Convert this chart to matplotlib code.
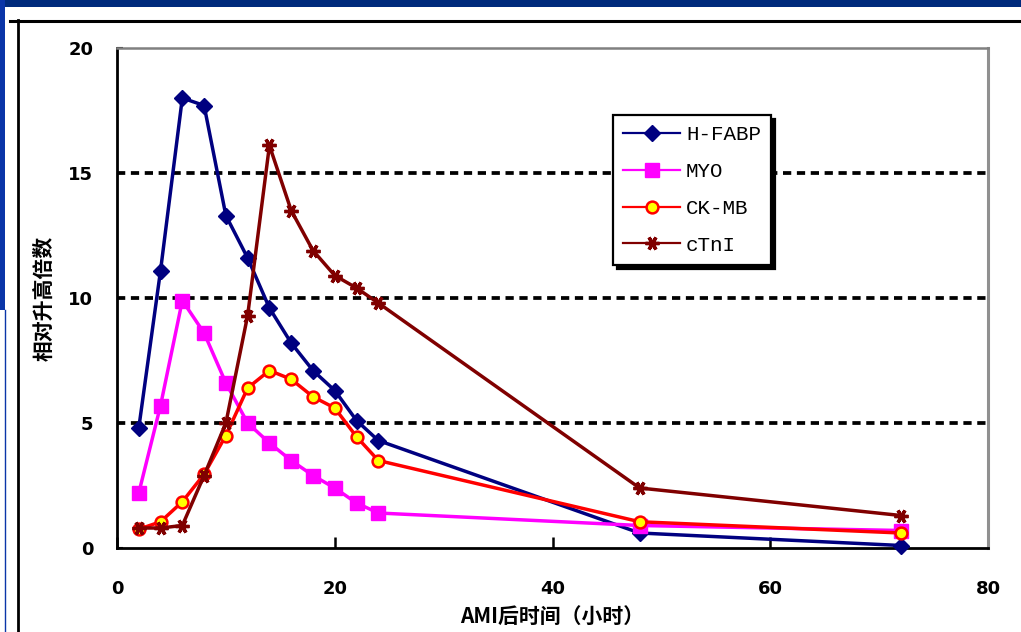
import matplotlib
matplotlib.use("Agg")
import matplotlib.pyplot as plt
from matplotlib.patches import Rectangle
from matplotlib.lines import Line2D

# Hours after AMI onset
hours = [2, 4, 6, 8, 10, 12, 14, 16, 18, 20, 22, 24, 48, 72]

# Fold change of each marker
h_fabp = [4.8, 11.1, 18.0, 17.7, 13.3, 11.6, 9.6, 8.2, 7.1, 6.3, 5.1, 4.3, 0.6, 0.1]
myo    = [2.2, 5.7, 9.9, 8.6, 6.6, 5.0, 4.2, 3.5, 2.9, 2.4, 1.8, 1.4, 0.9, 0.7]
ck_mb  = [0.75, 1.05, 1.85, 2.95, 4.5, 6.4, 7.1, 6.75, 6.05, 5.6, 4.45, 3.5, 1.05, 0.6]
ctni   = [0.8, 0.8, 0.9, 2.9, 5.0, 9.3, 16.1, 13.5, 11.9, 10.9, 10.4, 9.8, 2.4, 1.3]

series_names = ["H-FABP", "MYO", "CK-MB", "cTnI"]
x_ticks = [0, 20, 40, 60, 80]
y_ticks = [0, 5, 10, 15, 20]
x_label = "AMI后时间（小时）"
y_label = "相对升高倍数"

W, H = 1021, 632
fig = plt.figure(figsize=(W / 100, H / 100), dpi=100)
fig.patch.set_facecolor("white")


def fx(px):
    return px / W


def fy(py):
    return 1 - py / H


# Slide decorations: blue band at the top, blue strip on the left, black frame
fig.add_artist(Rectangle((0, fy(7)), 1, 7 / H, transform=fig.transFigure,
                         facecolor="#002a7c", edgecolor="none", zorder=0))
fig.add_artist(Rectangle((0, fy(310)), fx(5), 310 / H, transform=fig.transFigure,
                         facecolor="#0a35a8", edgecolor="none", zorder=0))
fig.add_artist(Line2D([fx(5), fx(5)], [fy(310), 0], transform=fig.transFigure,
                      color="#0a35a8", lw=1.0))
fig.add_artist(Line2D([fx(10), 1], [fy(20.5), fy(20.5)], transform=fig.transFigure,
                      color="black", lw=2.2))
fig.add_artist(Line2D([fx(17.5), fx(17.5)], [fy(20), 0], transform=fig.transFigure,
                      color="black", lw=2.0))

ax = fig.add_axes([fx(117), fy(548), fx(988) - fx(117), fy(48) - fy(548)])
ax.set_facecolor("white")

# Horizontal dotted reference lines
for yv in y_ticks[1:-1]:
    ax.axhline(yv, color="black", lw=2.7, linestyle=(0, (2.2, 1.5)), zorder=1)

common = dict(lw=2.5, clip_on=False, zorder=3)
l1, = ax.plot(hours, h_fabp, color="#000080", marker="D", markersize=8,
              markerfacecolor="#000080", markeredgecolor="#000080", **common)
l2, = ax.plot(hours, myo, color="#ff00ff", marker="s", markersize=9.5,
              markerfacecolor="#ff00ff", markeredgecolor="#ff00ff", **common)
l3, = ax.plot(hours, ck_mb, color="#ff0000", marker="o", markersize=8.5,
              markerfacecolor="#ffff00", markeredgecolor="#ff0000",
              markeredgewidth=1.8, **common)
l4, = ax.plot(hours, ctni, color="#800000", marker=(6, 2, 90), markersize=10,
              markeredgecolor="#800000", markeredgewidth=2.4, **common)

ax.set_xlim(0, 80)
ax.set_ylim(0, 20)
ax.set_xticks(x_ticks)
ax.set_yticks(y_ticks)
ax.set_xticklabels([str(v) for v in x_ticks])
ax.set_yticklabels([str(v) for v in y_ticks])

ax.tick_params(axis="x", direction="in", length=8, width=1.8, pad=23,
               labelsize=13, color="black")
ax.tick_params(axis="y", direction="in", length=4, width=1.5, pad=17,
               labelsize=13, color="black")
for lab in ax.get_xticklabels() + ax.get_yticklabels():
    lab.set_fontweight("bold")
    lab.set_family(["DejaVu Sans"])

ax.spines["left"].set_color("black")
ax.spines["left"].set_linewidth(2.0)
ax.spines["bottom"].set_color("black")
ax.spines["bottom"].set_linewidth(2.0)
ax.spines["top"].set_color("#808080")
ax.spines["top"].set_linewidth(1.8)
ax.spines["right"].set_color("#909090")
ax.spines["right"].set_linewidth(2.2)

ax.set_xlabel(x_label, fontsize=15, fontweight="bold",
              family=["Noto Sans CJK SC", "DejaVu Sans"], labelpad=6)
ax.set_ylabel(y_label, fontsize=15, fontweight="bold",
              family=["Noto Sans CJK SC", "DejaVu Sans"], labelpad=10)

leg = ax.legend([l1, l2, l3, l4], series_names,
                loc="upper left", bbox_to_anchor=(fx(613), fy(115)),
                bbox_transform=fig.transFigure, borderaxespad=0,
                frameon=True, fancybox=False, edgecolor="black",
                framealpha=1, facecolor="white",
                shadow={"ox": 2.6, "oy": -2.6, "color": "black", "alpha": 1},
                prop={"family": "Liberation Mono", "size": 15},
                handlelength=2.7, handletextpad=0.3, labelspacing=0.85,
                borderpad=0.5)
leg.get_frame().set_linewidth(1.6)
for h in leg.legend_handles:
    h.set_linewidth(1.6)

fig.savefig("out.png", dpi=100, facecolor="white")
